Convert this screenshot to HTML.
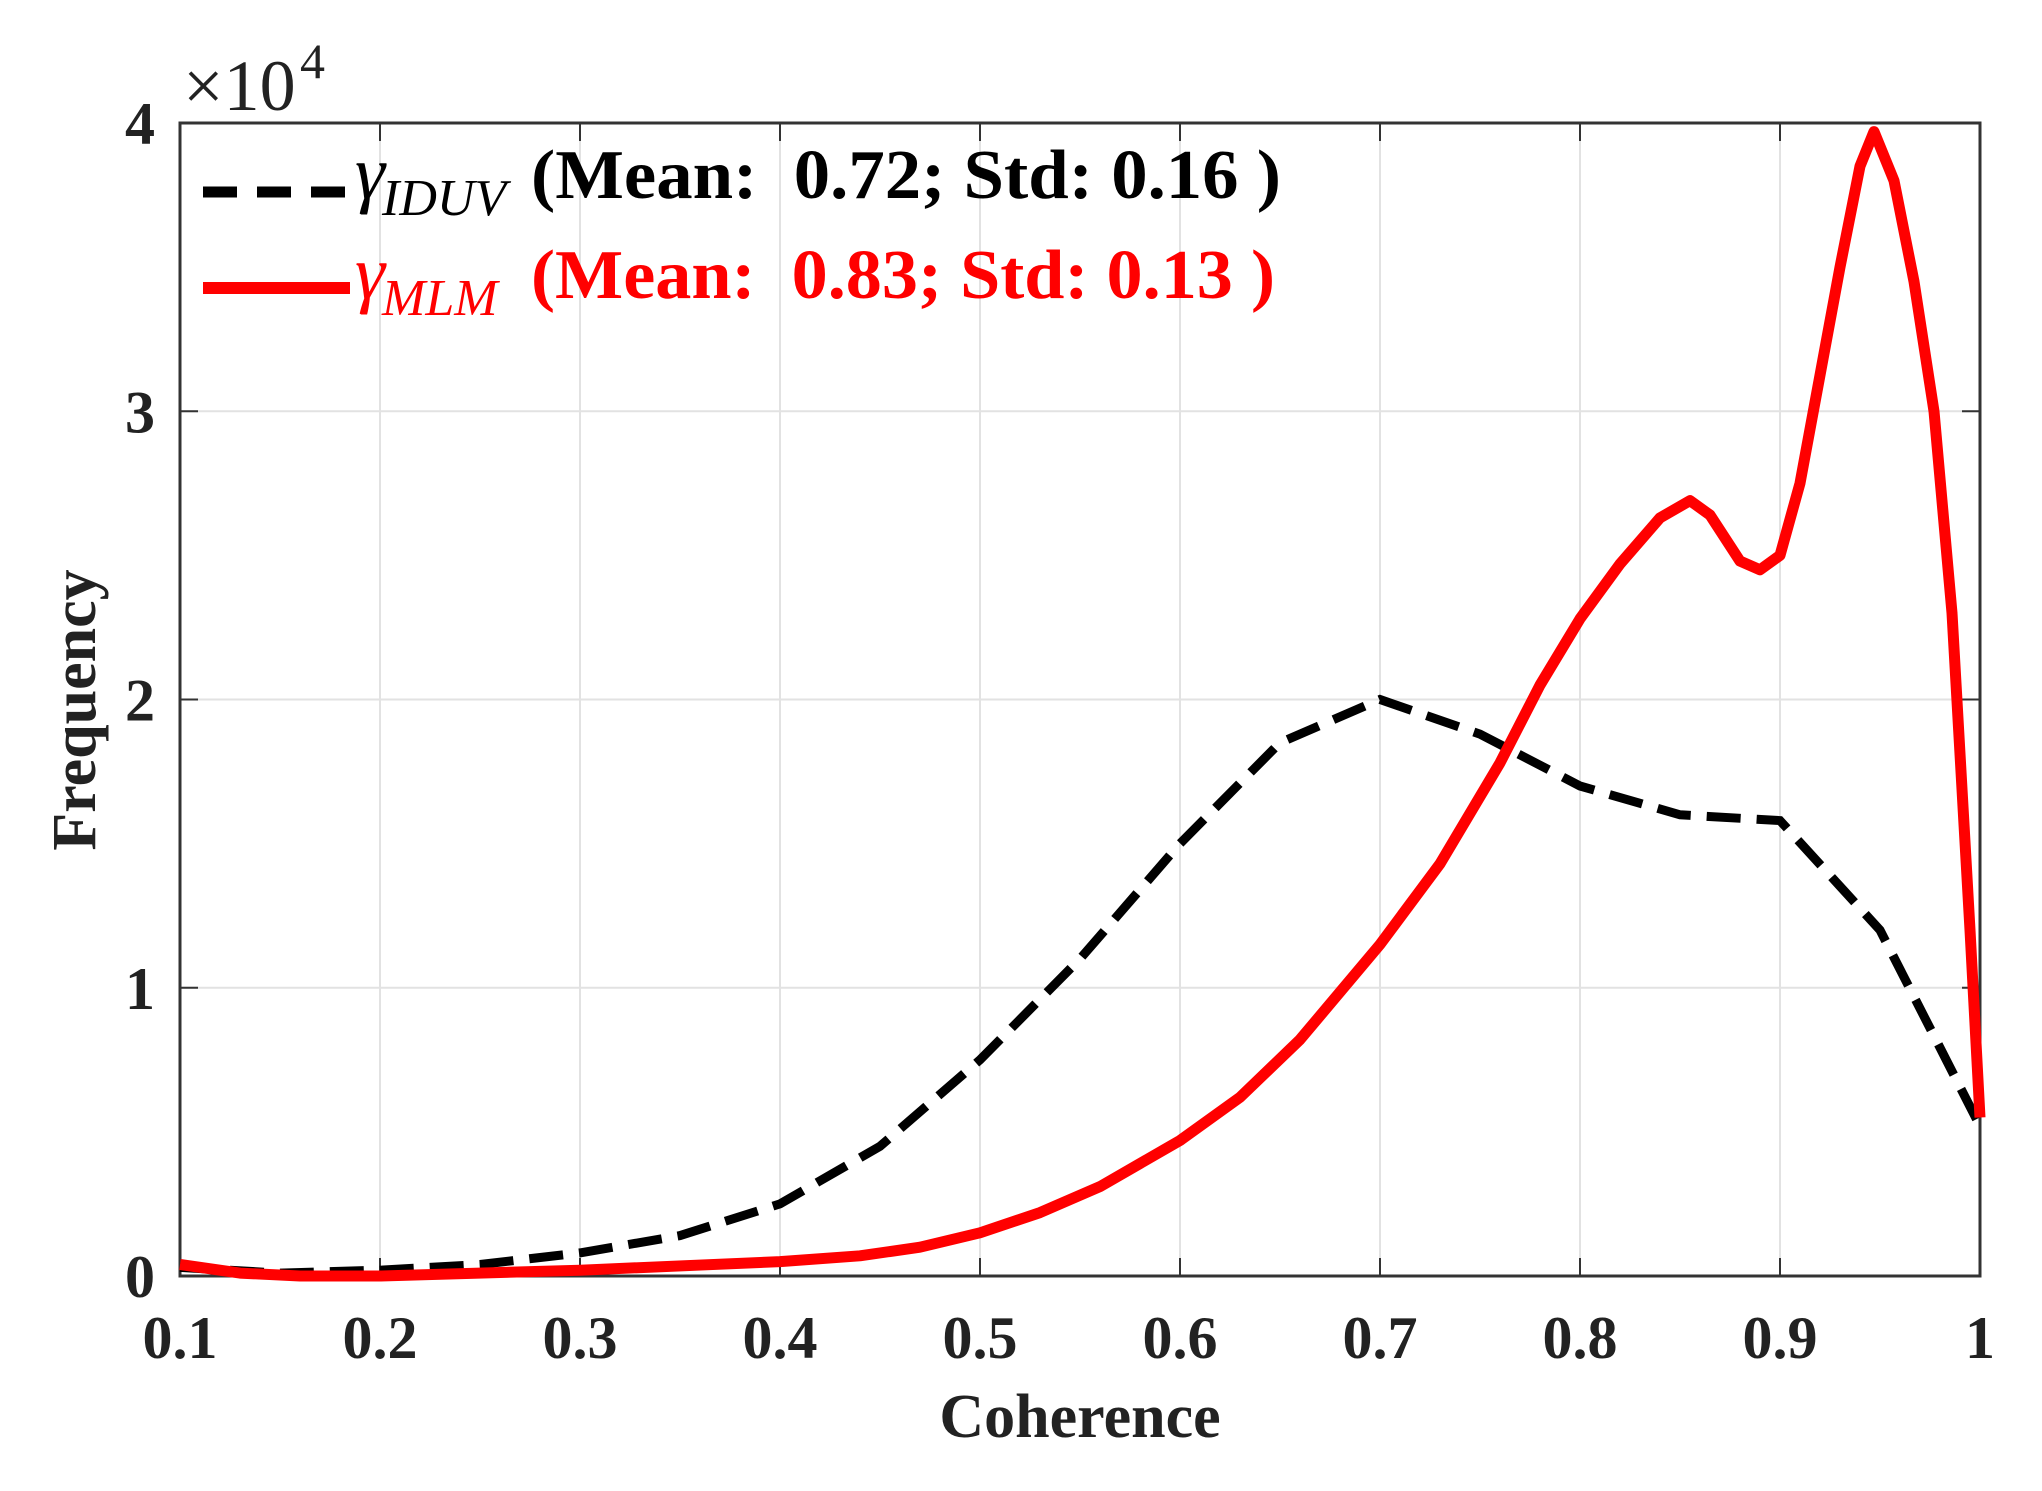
<!DOCTYPE html>
<html><head><meta charset="utf-8"><style>
html,body{margin:0;padding:0;background:#fff;}
svg{display:block;}
</style></head><body>
<svg id="s" width="2042" height="1491" xmlns="http://www.w3.org/2000/svg" font-family="Liberation Serif, serif">
<rect width="2042" height="1491" fill="#fff"/>
<g id="grid" stroke="#e2e2e2" stroke-width="2"></g>
<g id="ticks" stroke="#333" stroke-width="2"></g>
<rect x="180" y="123" width="1800" height="1153" fill="none" stroke="#333" stroke-width="3"/>
<path id="blk" fill="none" stroke="#000" stroke-width="9" stroke-dasharray="34,16"/>
<path id="red" fill="none" stroke="#ff0000" stroke-width="11" stroke-linejoin="round"/>
<g id="lbl" font-weight="bold" font-size="60" fill="#222"></g>
<text x="1080" y="1437" font-size="62" font-weight="bold" text-anchor="middle" fill="#222">Coherence</text>
<text transform="translate(95,710) rotate(-90)" font-size="62" font-weight="bold" text-anchor="middle" fill="#222">Frequency</text>
<text x="183" y="110" font-size="72" fill="#222">×10</text>
<text x="300" y="78" font-size="50" fill="#222">4</text>
<line x1="203" y1="192" x2="345" y2="192" stroke="#000" stroke-width="11" stroke-dasharray="34,20"/>
<text x="355" y="198" font-size="76" font-style="italic" fill="#000">γ</text>
<text x="382" y="215" font-size="52" font-style="italic" fill="#000">IDUV</text>
<text x="531" y="198" font-size="70" font-weight="bold" fill="#000" textLength="750" lengthAdjust="spacingAndGlyphs" xml:space="preserve">(Mean:  0.72; Std: 0.16 )</text>
<line x1="203" y1="288" x2="350" y2="288" stroke="#ff0000" stroke-width="12"/>
<text x="355" y="298" font-size="76" font-style="italic" fill="#f00">γ</text>
<text x="382" y="315" font-size="52" font-style="italic" fill="#f00">MLM</text>
<text x="531" y="298" font-size="70" font-weight="bold" fill="#f00" textLength="744" lengthAdjust="spacingAndGlyphs" xml:space="preserve">(Mean:  0.83; Std: 0.13 )</text>
</svg>
<script>
var X=v=>180+(v-0.1)/0.9*1800, Y=f=>1276-f*288.25, ns="http://www.w3.org/2000/svg";
function ln(g,x1,y1,x2,y2){var l=document.createElementNS(ns,"line");l.setAttribute("x1",x1);l.setAttribute("y1",y1);l.setAttribute("x2",x2);l.setAttribute("y2",y2);document.getElementById(g).appendChild(l);}
function tx(x,y,s,a){var t=document.createElementNS(ns,"text");t.setAttribute("x",x);t.setAttribute("y",y);t.setAttribute("text-anchor",a);t.textContent=s;document.getElementById("lbl").appendChild(t);}
for(var i=1;i<=10;i++){var v=i/10,x=X(v);if(i>1&&i<10)ln("grid",x,123,x,1276);ln("ticks",x,1276,x,1258);ln("ticks",x,123,x,141);tx(x,1358,i==10?"1":v.toFixed(1),"middle");}
for(var j=0;j<=4;j++){var y=Y(j);if(j>0&&j<4)ln("grid",180,y,1980,y);ln("ticks",180,y,198,y);ln("ticks",1980,y,1962,y);tx(155,y+21,""+j,"end");}
function P(d){return "M"+d.map(p=>X(p[0]).toFixed(1)+","+Y(p[1]).toFixed(1)).join(" L");}
document.getElementById("blk").setAttribute("d",P([[0.1,0.03],[0.15,0.01],[0.2,0.02],[0.25,0.04],[0.3,0.08],[0.35,0.14],[0.4,0.25],[0.45,0.45],[0.5,0.75],[0.55,1.1],[0.6,1.5],[0.65,1.85],[0.7,2.0],[0.75,1.88],[0.8,1.7],[0.85,1.6],[0.9,1.58],[0.95,1.2],[1.0,0.52]]));
document.getElementById("red").setAttribute("d",P([[0.1,0.04],[0.13,0.01],[0.16,0.0],[0.2,0.0],[0.3,0.02],[0.4,0.05],[0.44,0.07],[0.47,0.1],[0.5,0.15],[0.53,0.22],[0.56,0.31],[0.6,0.47],[0.63,0.62],[0.66,0.82],[0.7,1.15],[0.73,1.43],[0.76,1.78],[0.78,2.05],[0.8,2.28],[0.82,2.47],[0.84,2.63],[0.855,2.69],[0.865,2.64],[0.88,2.48],[0.89,2.45],[0.9,2.5],[0.91,2.75],[0.93,3.5],[0.94,3.85],[0.947,3.97],[0.957,3.8],[0.967,3.45],[0.977,3.0],[0.986,2.3],[0.995,1.2],[1.0,0.55]]));
</script>
</body></html>
